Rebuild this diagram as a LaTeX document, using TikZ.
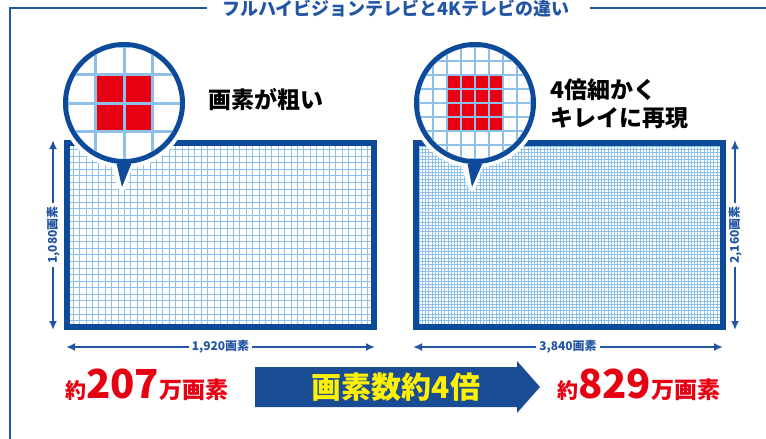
\documentclass[tikz,border=0pt]{standalone}
\usepackage{fontspec}
\setmainfont{Noto Sans CJK JP}
\usepackage{xcolor}
\usepackage{tikz}
\usetikzlibrary{positioning, calc, arrows.meta}
\definecolor{frameblue}{RGB}{34,85,164}
\definecolor{screenblue}{RGB}{14,74,154}
\definecolor{gridblue}{RGB}{142,192,234}
\definecolor{pixelred}{RGB}{230,0,18}
\definecolor{arrowblue}{RGB}{26,76,148}
\definecolor{textyellow}{RGB}{255,241,0}

\begin{document}
\begin{tikzpicture}[x=1pt, y=-1pt, font=\bfseries]
	\tikzstyle{screen}=[draw=none, fill=white, minimum width=307pt, minimum height=184pt, inner sep=0pt]
	\tikzstyle{screenframe}=[draw=screenblue, line width=6pt]
	\tikzstyle{lens}=[circle, draw=screenblue, line width=5pt, fill=white, minimum size=117pt, inner sep=0pt, preaction={draw=white, line width=13pt}]
	\tikzstyle{dimarrow}=[draw=frameblue, line width=2.2pt, {Latex[length=9pt,width=8pt]}-{Latex[length=9pt,width=8pt]}]
	\tikzstyle{dimlabel}=[fill=white, inner sep=3pt, text=frameblue, font=\bfseries\fontsize{12}{12}\selectfont]
	\tikzstyle{heading}=[text=black, font=\bfseries\fontsize{23}{28}\selectfont, align=left, inner sep=0pt, anchor=west]
	\tikzstyle{pixcount}=[text=pixelred, inner sep=0pt, anchor=base west]

	\useasboundingbox (0,0) rectangle (766,439);

	%% title and frame
	\node[text=frameblue, font=\bfseries\fontsize{18}{18}\selectfont, inner sep=0pt] (title) at (396,8) {フルハイビジョンテレビと4Kテレビの違い};
	\coordinate (fbl) at (10,439);
	\coordinate (fr) at (766,8);
	\draw[frameblue, line width=1.5pt] ([xshift=-15pt]title.west) -| (fbl);
	\draw[frameblue, line width=1.5pt] ([xshift=20pt]title.east) -- (fr);

	%% full HD screen
	\node[screen] (S1) at (220.5,235) {};
	\foreach \i in {1,...,47}
		\draw[gridblue, line width=0.8pt] ($(S1.north west)!\i/48!(S1.north east)$) -- ($(S1.south west)!\i/48!(S1.south east)$);
	\foreach \j in {1,...,27}
		\draw[gridblue, line width=0.8pt] ($(S1.north west)!\j/28!(S1.south west)$) -- ($(S1.north east)!\j/28!(S1.south east)$);
	\draw[screenframe] (S1.north west) rectangle (S1.south east);

	%% 4K screen
	\node[screen] (S2) at (569.5,235) {};
	\foreach \i in {1,...,95}
		\draw[gridblue, line width=0.6pt] ($(S2.north west)!\i/96!(S2.north east)$) -- ($(S2.south west)!\i/96!(S2.south east)$);
	\foreach \j in {1,...,55}
		\draw[gridblue, line width=0.6pt] ($(S2.north west)!\j/56!(S2.south west)$) -- ($(S2.north east)!\j/56!(S2.south east)$);
	\draw[screenframe] (S2.north west) rectangle (S2.south east);

	%% lens over full HD
	\coordinate (P1) at (122,187);
	\filldraw[white, line width=8pt, line join=round] ($(P1)+(-9,-30)$) -- (P1) -- ($(P1)+(9,-30)$) -- cycle;
	\node[lens] (M1) at (124,103) {};
	\begin{scope}
		\clip (M1.center) circle (56pt);
		\fill[pixelred] ($(M1.center)+(-28.5,-28.5)$) rectangle ($(M1.center)+(28.5,28.5)$);
		\foreach \k in {-2,...,2} {
			\draw[gridblue, line width=3pt] ($(M1.center)+(28.5*\k,-60)$) -- ++(0,120);
			\draw[gridblue, line width=3pt] ($(M1.center)+(-60,28.5*\k)$) -- ++(120,0);
		}
	\end{scope}
	\fill[screenblue] (M1.263) -- (P1) -- (M1.277) -- cycle;

	%% lens over 4K
	\coordinate (P2) at (472,187);
	\filldraw[white, line width=8pt, line join=round] ($(P2)+(-9,-30)$) -- (P2) -- ($(P2)+(9,-30)$) -- cycle;
	\node[lens] (M2) at (475,103) {};
	\begin{scope}
		\clip (M2.center) circle (56pt);
		\fill[pixelred] ($(M2.center)+(-28,-28)$) rectangle ($(M2.center)+(28,28)$);
		\foreach \k in {-4,...,4} {
			\draw[gridblue, line width=2.5pt] ($(M2.center)+(14*\k,-60)$) -- ++(0,120);
			\draw[gridblue, line width=2.5pt] ($(M2.center)+(-60,14*\k)$) -- ++(120,0);
		}
	\end{scope}
	\fill[screenblue] (M2.263) -- (P2) -- (M2.277) -- cycle;

	\node[heading] (H1) at (208,100) {画素が粗い};
	\node[heading] (H2) at (550,104) {4倍細かく\\キレイに再現};

	%% dimensions
	\coordinate (V1a) at (53,140);
	\coordinate (V1b) at (53,330);
	\draw[dimarrow] (V1a) -- (V1b);
	\node[dimlabel, rotate=90] (V1) at ($(V1a)!0.5!(V1b)$) {1,080画素};
	\coordinate (V2a) at (735,140);
	\coordinate (V2b) at (735,330);
	\draw[dimarrow] (V2a) -- (V2b);
	\node[dimlabel, rotate=90] (V2) at ($(V2a)!0.5!(V2b)$) {2,160画素};
	\coordinate (W1a) at (66,347);
	\coordinate (W1b) at (375,347);
	\draw[dimarrow] (W1a) -- (W1b);
	\node[dimlabel] (W1) at ($(W1a)!0.5!(W1b)$) {1,920画素};
	\coordinate (W2a) at (413,347);
	\coordinate (W2b) at (723,347);
	\draw[dimarrow] (W2a) -- (W2b);
	\node[dimlabel] (W2) at ($(W2a)!0.5!(W2b)$) {3,840画素};

	%% pixel counts
	\node[pixcount] (C1) at (65,398) {\fontsize{21}{21}\selectfont 約\fontsize{40}{40}\selectfont 207\fontsize{23}{23}\selectfont 万画素};
	\fill[arrowblue] (255,367) -- (517,367) -- (517,361) -- (540,387) -- (517,413) -- (517,407) -- (255,407) -- cycle;
	\node[text=textyellow, font=\bfseries\fontsize{30}{30}\selectfont, inner sep=0pt] (ratio) at (396,387) {画素数約4倍};
	\node[pixcount] (C2) at (557,398) {\fontsize{21}{21}\selectfont 約\fontsize{40}{40}\selectfont 829\fontsize{23}{23}\selectfont 万画素};
\end{tikzpicture}
\end{document}
